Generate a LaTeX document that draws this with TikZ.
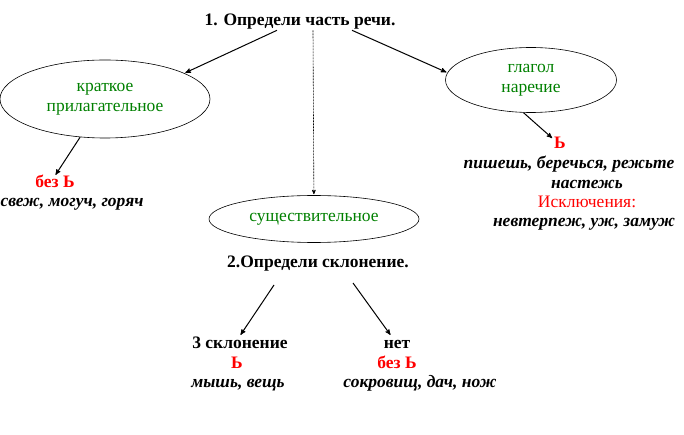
\documentclass[tikz,border=0pt]{standalone}
\usepackage{fontspec}
\setmainfont{Liberation Serif}
\usetikzlibrary{arrows,shapes.geometric,positioning}
\definecolor{wordgreen}{RGB}{0,128,0}

\begin{document}
\begin{tikzpicture}[x=1pt,y=-1pt,>=stealth',shorten >=1pt,auto,semithick,font=\fontsize{17.5}{20}\selectfont]
  \tikzstyle{part}=[draw, ellipse, inner sep=0pt, text=wordgreen, align=center]
  \tikzstyle{line}=[inner sep=1pt, text height=11pt, text depth=3pt]
  \tikzstyle{task}=[line, font=\fontsize{17.5}{20}\selectfont\bfseries]
  \tikzstyle{soft}=[line, text=red, font=\fontsize{17.5}{20}\selectfont\bfseries]
  \tikzstyle{ex}=[line, font=\fontsize{17.5}{20}\selectfont\bfseries\itshape]
  \tikzstyle{arr}=[->, line width=1pt]
  \useasboundingbox (0,0) rectangle (684,435);
  \node[task]  (title)  at (300,22)  {1. Определи часть речи.};
  \node[part, minimum width=210, minimum height=78] (adj) at (105,99) {краткое\\прилагательное};
  \node[part, minimum width=171, minimum height=65] (verb) at (531,80) {глагол\\наречие};
  \node[part, minimum width=210, minimum height=47] (noun) at (314,219) {существительное};
  % left branch
  \node[soft]  (adjno)   at (55,184)  {без Ь};
  \node[ex]    (adjex)   at (72,203)  {свеж, могуч, горяч};
  % right branch
  \node[soft]  (verbyes) at (560,145) {Ь};
  \node[ex]    (verbex1) at (569,165) {пишешь, беречься, режьте};
  \node[ex]    (verbex2) at (587,185) {настежь};
  \node[line, text=red] (excl) at (587,204) {Исключения:};
  \node[ex]    (verbex3) at (584,223) {невтерпеж, уж, замуж};
  % nouns
  \node[task]  (decl)    at (318,263) {2.Определи склонение.};
  \node[task]  (third)   at (240,344) {3 склонение};
  \node[soft]  (thirdyes) at (237,364) {Ь};
  \node[ex]    (thirdex) at (238,383) {мышь, вещь};
  \node[task]  (other)   at (397,344) {нет};
  \node[soft]  (otherno) at (397,364) {без Ь};
  \node[ex]    (otherex) at (420,383) {сокровищ, дач, нож};
  \coordinate (d1) at (274,285);
  \coordinate (d2) at (353,283);
  \path
  ([xshift=-23pt]title.south) edge [arr] (adj.18)
  ([xshift=13pt]title.south)  edge [arr, semithick, dash pattern=on 2pt off 1pt] (noun)
  ([xshift=52pt]title.south)  edge [arr] (verb.175)
  (adj) edge [arr] (adjno.north)
  (verb.257) edge [arr] (verbyes)
  (d1) edge [arr] (third.north)
  (d2) edge [arr] (other);
\end{tikzpicture}
\end{document}
